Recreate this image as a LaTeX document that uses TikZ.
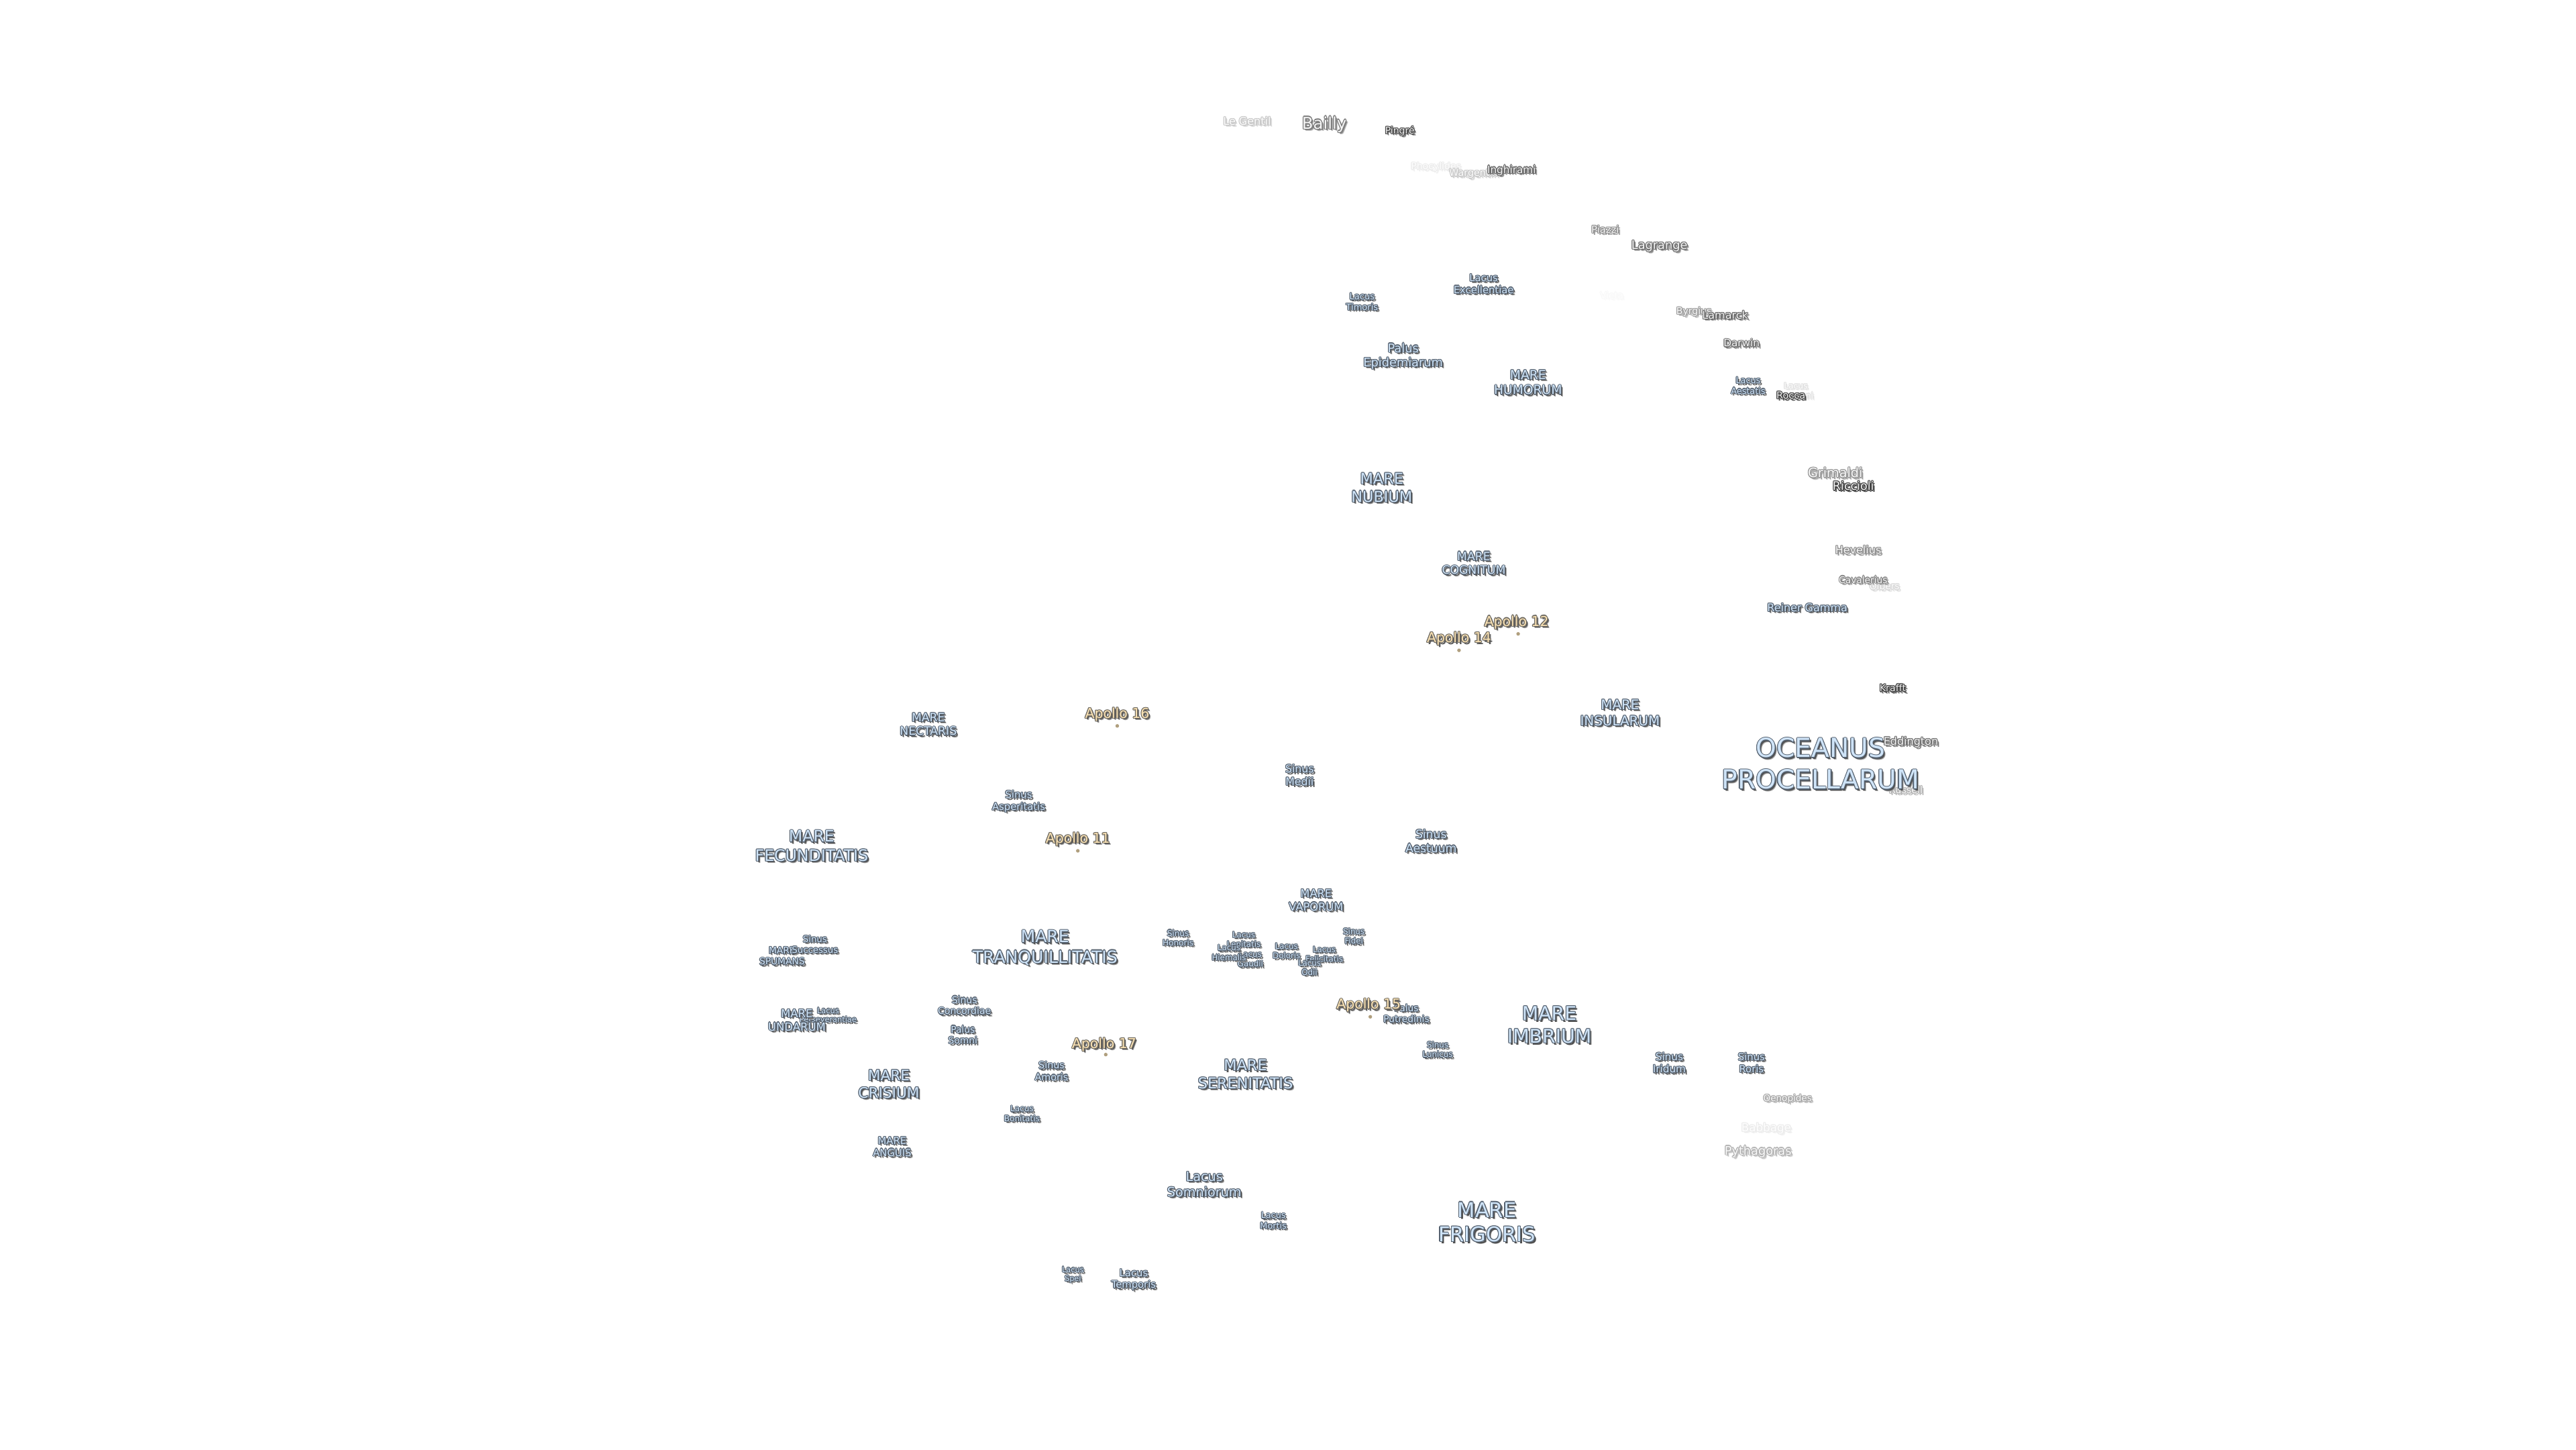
\documentclass[tikz,border=0pt]{standalone}
\usepackage{fontspec}
\setmainfont{DejaVu Sans}
\usetikzlibrary{positioning}

\definecolor{seaface}{HTML}{CFE4F8}
\definecolor{searim}{HTML}{566270}
\definecolor{apolloface}{HTML}{FBE3B4}
\definecolor{apollorim}{HTML}{6E6A62}
\definecolor{craterface}{HTML}{F0F0F0}
\definecolor{craterrim}{HTML}{404040}
\definecolor{moonshade}{HTML}{505050}
\definecolor{moonsoft}{HTML}{A8A8A8}
\colorlet{faceink}{white}
\colorlet{rimink}{black}
\colorlet{shadeink}{gray}
\colorlet{softink}{lightgray}

% one copy of the text, moved by #1 and #2
\newcommand{\stamp}[4]{\rlap{\smash{\hspace*{#1}\raisebox{#2}{\textcolor{#3}{#4}}}}}
\newcommand{\relief}[1]{%
    \stamp{1.3pt}{-1.3pt}{softink}{#1}\stamp{.95pt}{-.95pt}{shadeink}{#1}%
    \stamp{.5pt}{0pt}{rimink}{#1}\stamp{-.5pt}{0pt}{rimink}{#1}%
    \stamp{0pt}{.5pt}{rimink}{#1}\stamp{0pt}{-.5pt}{rimink}{#1}%
    \stamp{.35pt}{.35pt}{rimink}{#1}\stamp{-.35pt}{.35pt}{rimink}{#1}%
    \stamp{.35pt}{-.35pt}{rimink}{#1}\stamp{-.35pt}{-.35pt}{rimink}{#1}%
    \textcolor{faceink}{#1}}
\newcommand{\inks}[4]{\colorlet{faceink}{#1}\colorlet{rimink}{#2}\colorlet{shadeink}{#3}\colorlet{softink}{#4}}

\begin{document}
\begin{tikzpicture}
    [
        x=0.0995mm, y=-0.0995mm,
        em/.code={\pgfmathsetmacro{\linegap}{1.2*#1}\tikzset{font={\fontsize{#1}{\linegap}\selectfont}}},
        moon/.style={inner sep=0pt, align=center, scale=0.2845},
        sea/.style={moon, execute at begin node={\inks{seaface}{searim}{moonshade}{moonsoft}}},
        apollo/.style={moon, em=8.3, execute at begin node={\inks{apolloface}{apollorim}{moonshade}{moonsoft}}},
        crater/.style={moon, execute at begin node={\inks{craterface!#1!white}{craterrim!#1!white}{moonshade!#1!white}{moonsoft!#1!white}}},
        site/.style={circle, fill=apolloface!70!black, minimum size=0.22mm, inner sep=0pt}
    ]
    \useasboundingbox (0,-0.7) rectangle (1567.84,881.21);
    %craters
    \node[crater=28, em=6.5] at (759,73)    (le_gentil)   {\relief{Le Gentil}};
    \node[crater=70, em=9.9] at (806,75)    (bailly)      {\relief{Bailly}};
    \node[crater=95, em=5.7] at (852,79)    (pingre)      {\relief{Pingré}};
    \node[crater=10, em=5.7] at (874,101)   (phocylides)  {\relief{Phocylides}};
    \node[crater=28, em=5.8] at (897,105)   (wargentin)   {\relief{Wargentin}};
    \node[crater=80, em=6.2] at (920,103)   (inghirami)   {\relief{Inghirami}};
    \node[crater=60, em=6]   at (977,139)   (piazzi)      {\relief{Piazzi}};
    \node[crater=75, em=7.2] at (1010,149)  (lagrange)    {\relief{Lagrange}};
    \node[crater=3, em=5.5]  at (981,179)   (vieta)       {\relief{Vieta}};
    \node[crater=50, em=5.7] at (1031,189)  (byrgius)     {\relief{Byrgius}};
    \node[crater=80, em=6.5] at (1050,191)  (lamarck)     {\relief{Lamarck}};
    \node[crater=75, em=6.2] at (1060,208)  (darwin)      {\relief{Darwin}};
    \node[crater=55, em=7.8] at (1117,287)  (grimaldi)    {\relief{Grimaldi}};
    \node[crater=100, em=7.1] at (1128,295) (riccioli)    {\relief{Riccioli}};
    \node[crater=60, em=6.5] at (1131,334)  (hevelius)    {\relief{Hevelius}};
    \node[crater=20, em=5.6] at (1147,356)  (olbers)      {\relief{Olbers}};
    \node[crater=65, em=5.6] at (1134,352)  (cavalerius)  {\relief{Cavalerius}};
    \node[crater=100, em=5.8] at (1152,418) (krafft)      {\relief{Krafft}};
    \node[crater=40, em=5.8] at (1160,480)  (russell)     {\relief{Russell}};
    \node[crater=45, em=5.5] at (1088,668)  (oenopides)   {\relief{Oenopides}};
    \node[crater=10, em=6.8] at (1075,686)  (babbage)     {\relief{Babbage}};
    \node[crater=40, em=7.2] at (1070,700)  (pythagoras)  {\relief{Pythagoras}};
    %seas
    \node[sea, em=15.9] at (1108,464) (procellarum)  {\relief{OCEANUS}\\\relief{PROCELLARUM}};
    \node[crater=75, em=6.5] at (1163,451) (eddington) {\relief{Eddington}};
    \node[sea, em=12.4] at (905,743)  (frigoris)     {\relief{MARE}\\\relief{FRIGORIS}};
    \node[sea, em=11.5] at (943,623)  (imbrium)      {\relief{MARE}\\\relief{IMBRIUM}};
    \node[sea, em=10.2] at (636,576)  (tranquillitatis) {\relief{MARE}\\\relief{TRANQUILLITATIS}};
    \node[sea, em=9.1]  at (758,653)  (serenitatis)  {\relief{MARE}\\\relief{SERENITATIS}};
    \node[sea, em=9.6]  at (494,514)  (fecunditatis) {\relief{MARE}\\\relief{FECUNDITATIS}};
    \node[sea, em=8.8]  at (541,659)  (crisium)      {\relief{MARE}\\\relief{CRISIUM}};
    \node[sea, em=9.1]  at (841,296)  (nubium)       {\relief{MARE}\\\relief{NUBIUM}};
    \node[sea, em=8.1]  at (986,433)  (insularum)    {\relief{MARE}\\\relief{INSULARUM}};
    \node[sea, em=7.6]  at (930,232)  (humorum)      {\relief{MARE}\\\relief{HUMORUM}};
    \node[sea, em=7]    at (897,342)  (cognitum)     {\relief{MARE}\\\relief{COGNITUM}};
    \node[sea, em=7]    at (565,440)  (nectaris)     {\relief{MARE}\\\relief{NECTARIS}};
    \node[sea, em=6.6]  at (801,547)  (vaporum)      {\relief{MARE}\\\relief{VAPORUM}};
    \node[sea, em=6]    at (543,697)  (anguis)       {\relief{MARE}\\\relief{ANGUIS}};
    \node[sea, em=5.6]  at (476,581)  (spumans)      {\relief{MARE}\\\relief{SPUMANS}};
    \node[sea, em=4.6]  at (504,617)  (perseverantiae) {\relief{Lacus}\\\relief{Perseverantiae}};
    \node[sea, em=6.7]  at (485,620)  (undarum)      {\relief{MARE}\\\relief{UNDARUM}};
    %lakes, bays and marshes
    \node[sea, em=7.2]  at (854,216)  (epidemiarum)  {\relief{Palus}\\\relief{Epidemiarum}};
    \node[sea, em=6]    at (903,172)  (excellentiae) {\relief{Lacus}\\\relief{Excellentiae}};
    \node[sea, em=5.3]  at (829,183)  (timoris)      {\relief{Lacus}\\\relief{Timoris}};
    \node[sea, em=5.2]  at (1064,234) (aestatis)     {\relief{Lacus}\\\relief{Aestatis}};
    \node[crater=15, em=5] at (1093,237) (autumni)   {\relief{Lacus}\\\relief{Autumni}};
    \node[crater=100, em=5.9] at (1090,240) (rocca)  {\relief{Rocca}};
    \node[sea, em=6.5]  at (1100,369) (reiner_gamma) {\relief{Reiner Gamma}};
    \node[sea, em=6.4]  at (791,471)  (medii)        {\relief{Sinus}\\\relief{Medii}};
    \node[sea, em=7]    at (871,511)  (aestuum)      {\relief{Sinus}\\\relief{Aestuum}};
    \node[sea, em=6]    at (620,487)  (asperitatis)  {\relief{Sinus}\\\relief{Asperitatis}};
    \node[sea, em=7.8]  at (733,720)  (somniorum)    {\relief{Lacus}\\\relief{Somniorum}};
    \node[sea, em=5.2]  at (775,742)  (mortis)       {\relief{Lacus}\\\relief{Mortis}};
    \node[sea, em=4.6]  at (653,775)  (spei)         {\relief{Lacus}\\\relief{Spei}};
    \node[sea, em=6]    at (690,778)  (temporis)     {\relief{Lacus}\\\relief{Temporis}};
    \node[sea, em=4.9]  at (622,677)  (bonitatis)    {\relief{Lacus}\\\relief{Bonitatis}};
    \node[sea, em=5.8]  at (640,651)  (amoris)       {\relief{Sinus}\\\relief{Amoris}};
    \node[sea, em=5.6]  at (586,629)  (somni)        {\relief{Palus}\\\relief{Somni}};
    \node[sea, em=5.7]  at (587,611)  (concordiae)   {\relief{Sinus}\\\relief{Concordiae}};
    \node[sea, em=5.4]  at (496,574)  (successus)    {\relief{Sinus}\\\relief{Successus}};
    \node[sea, em=4.9]  at (717,570)  (honoris)      {\relief{Sinus}\\\relief{Honoris}};
    \node[sea, em=4.8]  at (757,571)  (lenitatis)    {\relief{Lacus}\\\relief{Lenitatis}};
    \node[sea, em=4.8]  at (761,583)  (gaudii)       {\relief{Lacus}\\\relief{Gaudii}};
    \node[sea, em=4.8]  at (748,579)  (hiemalis)     {\relief{Lacus}\\\relief{Hiemalis}};
    \node[sea, em=4.8]  at (783,578)  (doloris)      {\relief{Lacus}\\\relief{Doloris}};
    \node[sea, em=4.8]  at (824,569)  (fidei)        {\relief{Sinus}\\\relief{Fidei}};
    \node[sea, em=4.8]  at (806,580)  (felicitatis)  {\relief{Lacus}\\\relief{Felicitatis}};
    \node[sea, em=4.8]  at (797,588)  (odii)         {\relief{Lacus}\\\relief{Odii}};
    \node[sea, em=5.6]  at (856,616)  (putredinis)   {\relief{Palus}\\\relief{Putredinis}};
    \node[sea, em=4.8]  at (875,638)  (lunicus)      {\relief{Sinus}\\\relief{Lunicus}};
    \node[sea, em=6.2]  at (1016,646) (iridum)       {\relief{Sinus}\\\relief{Iridum}};
    \node[sea, em=6]    at (1066,646) (roris)        {\relief{Sinus}\\\relief{Roris}};
    %landing sites
    \node[site] at (924,385) (site_12) {};
    \node[site] at (888,395) (site_14) {};
    \node[site] at (680,441) (site_16) {};
    \node[site] at (656,517) (site_11) {};
    \node[site] at (834,618) (site_15) {};
    \node[site] at (673,641) (site_17) {};
    \node[apollo] at (923,378) (apollo_12) {\relief{Apollo 12}};
    \node[apollo] at (888,388) (apollo_14) {\relief{Apollo 14}};
    \node[apollo] at (680,434) (apollo_16) {\relief{Apollo 16}};
    \node[apollo] at (656,510) (apollo_11) {\relief{Apollo 11}};
    \node[apollo] at (833,611) (apollo_15) {\relief{Apollo 15}};
    \node[apollo] at (672,635) (apollo_17) {\relief{Apollo 17}};
\end{tikzpicture}
\end{document}
